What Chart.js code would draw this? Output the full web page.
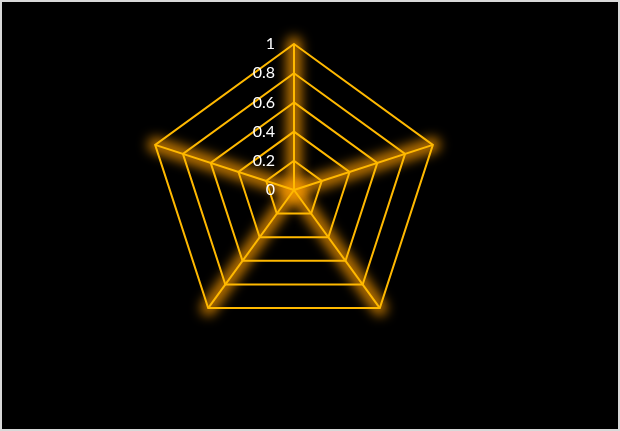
<!DOCTYPE html>
<html>
<head>
<meta charset="utf-8">
<script src="https://cdn.jsdelivr.net/npm/chart.js@4/dist/chart.umd.min.js"></script>
<style>
  html, body { margin: 0; padding: 0; background: #000; }
  #wrap { width: 616px; height: 427px; border: 2px solid #d9d9d9; background: #000; }
  canvas { display: block; }
</style>
</head>
<body>
<div id="wrap"><canvas id="c" width="616" height="427"></canvas></div>
<script>
// Data
const categories = ['A', 'B', 'C', 'D', 'E'];
const seriesValues = [];            // no visible series in the reference
const tickValues = [0, 0.2, 0.4, 0.6, 0.8, 1];
const tickLabels = ['0', '0.2', '0.4', '0.6', '0.8', '1'];

const gold = '#FFB900';

const glowPlugin = {
  id: 'glowSpokes',
  beforeDraw(chart) {
    const ctx = chart.ctx;
    const s = chart.scales.r;
    ctx.save();
    ctx.fillStyle = '#000';
    ctx.fillRect(0, 0, chart.width, chart.height);
    ctx.filter = 'blur(6px)';
    ctx.strokeStyle = 'rgba(235,145,0,0.8)';
    ctx.lineWidth = 15;
    ctx.lineCap = 'round';
    for (let i = 0; i < categories.length; i++) {
      const p = s.getPointPositionForValue(i, s.max);
      ctx.beginPath();
      ctx.moveTo(s.xCenter, s.yCenter);
      ctx.lineTo(p.x, p.y);
      ctx.stroke();
    }
    ctx.restore();
  },
  afterDraw(chart) {
    const ctx = chart.ctx;
    const s = chart.scales.r;
    ctx.save();
    ctx.fillStyle = '#ffffff';
    ctx.font = '16px Lato';
    ctx.textAlign = 'right';
    ctx.textBaseline = 'middle';
    tickValues.forEach((v, i) => {
      const d = s.getDistanceFromCenterForValue(v);
      ctx.fillText(tickLabels[i], s.xCenter - 19, s.yCenter - d);
    });
    ctx.restore();
  }
};

new Chart(document.getElementById('c'), {
  type: 'radar',
  data: {
    labels: categories,
    datasets: [{ data: seriesValues, borderWidth: 0, pointRadius: 0 }]
  },
  options: {
    responsive: false,
    animation: false,
    layout: { padding: { left: 0, right: 32, top: 42, bottom: 93 } },
    plugins: { legend: { display: false }, tooltip: { enabled: false } },
    scales: {
      r: {
        min: 0,
        max: 1,
        ticks: { display: false, stepSize: 0.2 },
        pointLabels: { display: false },
        grid: { color: gold, lineWidth: 2 },
        angleLines: { color: gold, lineWidth: 2 }
      }
    }
  },
  plugins: [glowPlugin]
});
</script>
</body>
</html>
